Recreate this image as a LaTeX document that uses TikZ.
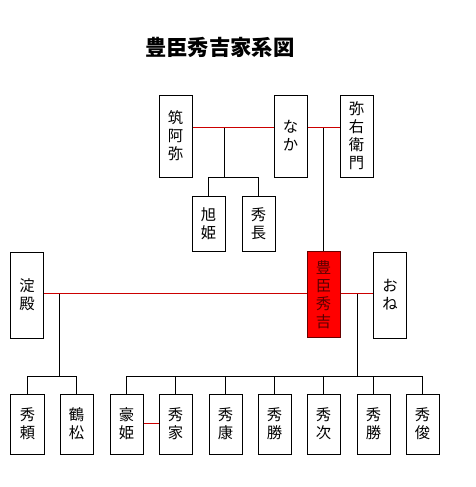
\documentclass[tikz,border=0pt]{standalone}
\usepackage{fontspec}
\setmainfont{Noto Sans CJK JP}
\usepackage{tikz}
\usetikzlibrary{positioning, calc}

\begin{document}
\begin{tikzpicture}[
  x=0.75pt, y=-0.75pt,
  person/.style={draw, line width=0.75pt, minimum width=24.75pt, inner sep=0pt, align=center, font=\fontsize{11.5}{13.5}\selectfont},
  tall/.style={person, minimum height=61.5pt},
  short/.style={person, minimum height=41.25pt},
  mid/.style={person, minimum height=64.5pt},
  kid/.style={person, minimum height=45pt},
  kinline/.style={line width=0.75pt},
  marriage/.style={color=red!80!black, line width=1pt}
]
\fill[white] (0,0) rectangle (476,487);
\useasboundingbox (0,0) rectangle (476,487);

% ----- Titre -----
\node[font=\fontsize{16}{18}\selectfont\bfseries] (title) at (220,47) {豊臣秀吉家系図};

% ----- Rang 1 (y = 136) -----
\node[tall] (chikuami) at (175.5,136) {筑\\阿\\弥};
\node[tall] (naka)     at (290.5,136) {な\\か};
\node[tall] (yaemon)   at (356.5,136) {弥\\右\\衛\\門};

% ----- Rang 2 (y = 223) -----
\node[short] (asahi)    at (208.5,223.5) {旭\\姫};
\node[short] (hidenaga) at (258.5,223.5) {秀\\長};

% ----- Rang 3 (y = 295) -----
\node[mid, fill=red, draw=red!40!black, text=red!35!black] (hideyoshi) at (323.5,294.5) {豊\\臣\\秀\\吉};
\node[mid] (yodo) at (27,295) {淀\\殿};
\node[mid] (nene) at (390,295) {お\\ね};

% ----- Rang 4 (y = 424) -----
\node[kid] (hideyori)   at (27.5,424)  {秀\\頼};
\node[kid] (tsurumatsu) at (76.5,424)  {鶴\\松};
\node[kid] (gohime)     at (126.5,424) {豪\\姫};
\node[kid] (hideie)     at (175.5,424) {秀\\家};
\node[kid] (hideyasu)   at (225.5,424) {秀\\康};
\node[kid] (hidekatsu)  at (274.5,424) {秀\\勝};
\node[kid] (hidetsugu)  at (323.5,424) {秀\\次};
\node[kid] (hidekatsub) at (373.5,424) {秀\\勝};
\node[kid] (hidetoshi)  at (422.5,424) {秀\\俊};

% ----- Points de jonction -----
\coordinate (p1) at (224.5,127.5);
\coordinate (j1) at (224.5,177.5);
\coordinate (p2) at (323.5,127.5);
\coordinate (p3) at (59.5,293.5);
\coordinate (j3) at (59.5,376.5);
\coordinate (p4) at (357.5,293.5);
\coordinate (j4) at (357.5,376.5);
\coordinate (p5) at (150,423.5);

% ----- Enfants -----
\draw[kinline] (p1) -- (j1);
\draw[kinline] (asahi.north) |- (j1) -| (hidenaga.north);
\draw[kinline] (p2) -- (hideyoshi.north);
\draw[kinline] (p3) -- (j3);
\draw[kinline] (hideyori.north) |- (j3) -| (tsurumatsu.north);
\draw[kinline] (p4) -- (j4);
\draw[kinline] (gohime.north) |- (j4) -| (hidetoshi.north);
\foreach \n in {hideie, hideyasu, hidekatsu, hidetsugu, hidekatsub}
  \draw[kinline] (\n.north) -- (\n.north |- j4);

% ----- Mariages -----
\draw[marriage] (chikuami.east |- p1) -- (naka.west |- p1);
\draw[marriage] (naka.east |- p2) -- (yaemon.west |- p2);
\draw[marriage] (yodo.east |- p3) -- (hideyoshi.west |- p3);
\draw[marriage] (hideyoshi.east |- p4) -- (nene.west |- p4);
\draw[marriage] (gohime.east |- p5) -- (hideie.west |- p5);

\end{tikzpicture}
\end{document}
